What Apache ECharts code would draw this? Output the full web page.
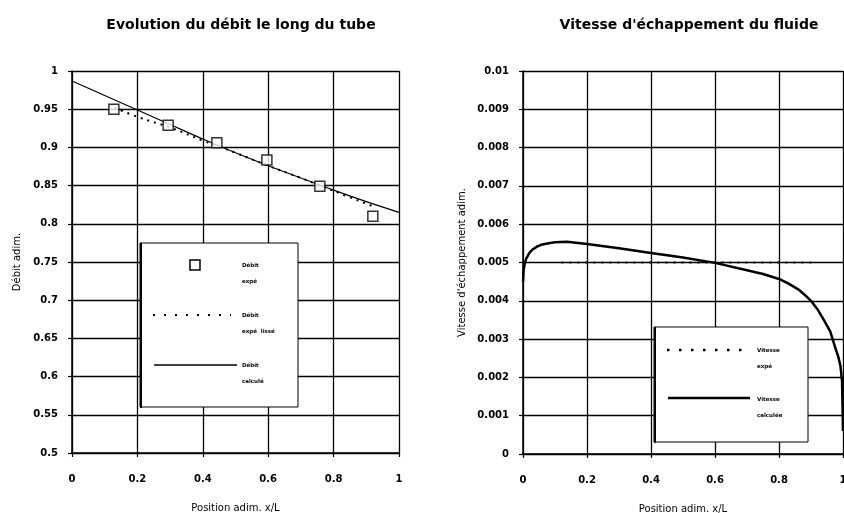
<!DOCTYPE html>
<html>
<head>
<meta charset="utf-8">
<script src="https://cdn.jsdelivr.net/npm/echarts@6/dist/echarts.min.js"></script>
<style>
html,body{margin:0;padding:0;background:#fff;}
#c{width:844px;height:513px;}
</style>
</head>
<body>
<div id="c"></div>
<script>
// ---- Left chart: Débit ----
var posExpe = [0.128, 0.294, 0.443, 0.596, 0.758, 0.92];
var debitExpe = [0.95, 0.929, 0.906, 0.8835, 0.849, 0.81];
var posLisse = [0.13, 0.2, 0.3, 0.4, 0.5, 0.6, 0.7, 0.8, 0.92];
var debitLisse = [0.952, 0.94, 0.926, 0.909, 0.893, 0.876, 0.86, 0.843, 0.823];
var posCalc = [0, 0.1, 0.2, 0.3, 0.4, 0.5, 0.6, 0.7, 0.8, 0.9, 1.0];
var debitCalc = [0.987, 0.968, 0.949, 0.93, 0.911, 0.893, 0.876, 0.86, 0.844, 0.829, 0.815];

// ---- Right chart: Vitesse ----
var posVExpe = [0.12, 0.2, 0.3, 0.4, 0.5, 0.6, 0.7, 0.8, 0.91];
var vitExpe = [0.005, 0.005, 0.005, 0.005, 0.005, 0.005, 0.005, 0.005, 0.005];
var posVCalc = [0, 0.002, 0.005, 0.01, 0.02, 0.03, 0.045, 0.06, 0.08, 0.1, 0.137, 0.2, 0.3, 0.4, 0.5, 0.6, 0.7, 0.75, 0.8, 0.83, 0.86, 0.88, 0.9, 0.92, 0.94, 0.96, 0.975, 0.985, 0.992, 0.997, 1.0];
var vitCalc = [0.0045, 0.0048, 0.00495, 0.0051, 0.00525, 0.00534, 0.00542, 0.00547, 0.0055, 0.00553, 0.00554, 0.00548, 0.00537, 0.00525, 0.00513, 0.00499, 0.0048, 0.0047, 0.00457, 0.00445, 0.0043, 0.00416, 0.004, 0.00378, 0.0035, 0.0032, 0.0028, 0.00255, 0.0023, 0.0019, 0.0006];

function zip(a, b) { return a.map(function (v, i) { return [v, b[i]]; }); }

var FONT = 'DejaVu Sans';
var txt = { fontFamily: FONT, fontWeight: 'bold', color: '#000' };
var nameTxt = { fontFamily: FONT, fontWeight: 'normal', color: '#000', fontSize: 10 };

function xAxisCfg(gi) {
  return {
    gridIndex: gi, type: 'value', min: 0, max: 1, interval: 0.2,
    name: 'Position adim. x/L', nameLocation: 'middle', nameGap: 50,
    nameTextStyle: nameTxt,
    axisLine: { lineStyle: { color: '#000', width: 1.5 } },
    axisTick: { show: true, length: 4, lineStyle: { color: '#000', width: 1.2 } },
    axisLabel: Object.assign({ fontSize: 10, margin: 21, formatter: function (v) { return String(+v.toFixed(1)); } }, txt),
    splitLine: { show: true, lineStyle: { color: '#000', width: 1.3 } }
  };
}

var chart = echarts.init(document.getElementById('c'));
chart.setOption({
  animation: false,
  backgroundColor: '#fff',
  title: [
    { text: 'Evolution du débit le long du tube', left: 236, top: 13, textAlign: 'center',
      textStyle: Object.assign({ fontSize: 14 }, txt) },
    { text: "Vitesse d'échappement du fluide", left: 684, top: 13, textAlign: 'center',
      textStyle: Object.assign({ fontSize: 14 }, txt) }
  ],
  grid: [
    { left: 72, right: 445, top: 71, bottom: 60, outerBoundsMode: 'none', containLabel: false },
    { left: 523, right: 1, top: 71, bottom: 59, outerBoundsMode: 'none', containLabel: false }
  ],
  xAxis: [xAxisCfg(0), xAxisCfg(1)],
  yAxis: [
    { gridIndex: 0, type: 'value', min: 0.5, max: 1, interval: 0.05,
      name: 'Débit adim.', nameLocation: 'middle', nameGap: 50,
      nameTextStyle: nameTxt,
      axisLine: { show: true, lineStyle: { color: '#000', width: 1.5 } },
      axisTick: { show: true, length: 4, lineStyle: { color: '#000', width: 1.2 } },
      axisLabel: Object.assign({ fontSize: 10, margin: 14, formatter: function (v) { return String(+v.toFixed(2)); } }, txt),
      splitLine: { show: true, lineStyle: { color: '#000', width: 1.3 } } },
    { gridIndex: 1, type: 'value', min: 0, max: 0.01, interval: 0.001,
      name: "Vitesse d'échappement adim.", nameLocation: 'middle', nameGap: 56,
      nameTextStyle: nameTxt,
      axisLine: { show: true, lineStyle: { color: '#000', width: 1.5 } },
      axisTick: { show: true, length: 4, lineStyle: { color: '#000', width: 1.2 } },
      axisLabel: Object.assign({ fontSize: 10, margin: 14, formatter: function (v) { return String(+v.toFixed(3)); } }, txt),
      splitLine: { show: true, lineStyle: { color: '#000', width: 1.3 } } }
  ],
  series: [
    { name: 'Débit calculé', type: 'line', xAxisIndex: 0, yAxisIndex: 0, smooth: 0.4,
      data: zip(posCalc, debitCalc), showSymbol: false, symbol: 'none',
      lineStyle: { color: '#000', width: 1.2 }, z: 3 },
    { name: 'Débit expé lissé', type: 'line', xAxisIndex: 0, yAxisIndex: 0, smooth: 0.4,
      data: zip(posLisse, debitLisse), showSymbol: false, symbol: 'none',
      lineStyle: { color: '#000', width: 2, type: [2, 5] }, z: 3 },
    { name: 'Débit expé', type: 'scatter', xAxisIndex: 0, yAxisIndex: 0,
      data: zip(posExpe, debitExpe), symbol: 'rect', symbolSize: 10,
      itemStyle: { color: '#fff', borderColor: '#000', borderWidth: 1.5 }, z: 5 },
    { name: 'Vitesse expé', type: 'line', xAxisIndex: 1, yAxisIndex: 1,
      data: zip(posVExpe, vitExpe), showSymbol: false, symbol: 'none',
      lineStyle: { color: '#000', width: 2, type: [2, 6] }, z: 3 },
    { name: 'Vitesse calculée', type: 'line', xAxisIndex: 1, yAxisIndex: 1, smooth: false,
      data: zip(posVCalc, vitCalc), showSymbol: false, symbol: 'none',
      lineStyle: { color: '#000', width: 2.5, join: 'round' }, z: 4 }
  ],
  graphic: [
    // Left legend
    { type: 'rect', shape: { x: 140, y: 243, width: 158, height: 164 }, style: { fill: '#fff', stroke: '#000', lineWidth: 1 }, z: 10 },
    { type: 'line', shape: { x1: 141, y1: 243, x2: 141, y2: 408 }, style: { stroke: '#000', lineWidth: 2 }, z: 11 },
    { type: 'rect', shape: { x: 190, y: 260, width: 10, height: 10 }, style: { fill: '#fff', stroke: '#000', lineWidth: 1.5 }, z: 11 },
    { type: 'text', style: { x: 242, y: 262, text: 'Débit\n\nexpé', font: 'bold 5.5px "DejaVu Sans"', fill: '#000', lineHeight: 8 }, z: 11 },
    { type: 'line', shape: { x1: 153, y1: 315, x2: 231, y2: 315 }, style: { stroke: '#000', lineWidth: 2, lineDash: [2, 9] }, z: 11 },
    { type: 'text', style: { x: 242, y: 312, text: 'Débit\n\nexpé  lissé', font: 'bold 5.5px "DejaVu Sans"', fill: '#000', lineHeight: 8 }, z: 11 },
    { type: 'line', shape: { x1: 154, y1: 365, x2: 237, y2: 365 }, style: { stroke: '#000', lineWidth: 1.3 }, z: 11 },
    { type: 'text', style: { x: 242, y: 362, text: 'Débit\n\ncalculé', font: 'bold 5.5px "DejaVu Sans"', fill: '#000', lineHeight: 8 }, z: 11 },
    // Right legend
    { type: 'rect', shape: { x: 654, y: 327, width: 154, height: 115 }, style: { fill: '#fff', stroke: '#000', lineWidth: 1 }, z: 10 },
    { type: 'line', shape: { x1: 655, y1: 327, x2: 655, y2: 443 }, style: { stroke: '#000', lineWidth: 2 }, z: 11 },
    { type: 'line', shape: { x1: 667, y1: 350, x2: 747, y2: 350 }, style: { stroke: '#000', lineWidth: 2.5, lineDash: [2.5, 9.5] }, z: 11 },
    { type: 'text', style: { x: 757, y: 347, text: 'Vitesse\n\nexpé', font: 'bold 5.5px "DejaVu Sans"', fill: '#000', lineHeight: 8 }, z: 11 },
    { type: 'line', shape: { x1: 668, y1: 398, x2: 750, y2: 398 }, style: { stroke: '#000', lineWidth: 2.5 }, z: 11 },
    { type: 'text', style: { x: 757, y: 396, text: 'Vitesse\n\ncalculée', font: 'bold 5.5px "DejaVu Sans"', fill: '#000', lineHeight: 8 }, z: 11 }
  ]
});
</script>
</body>
</html>
